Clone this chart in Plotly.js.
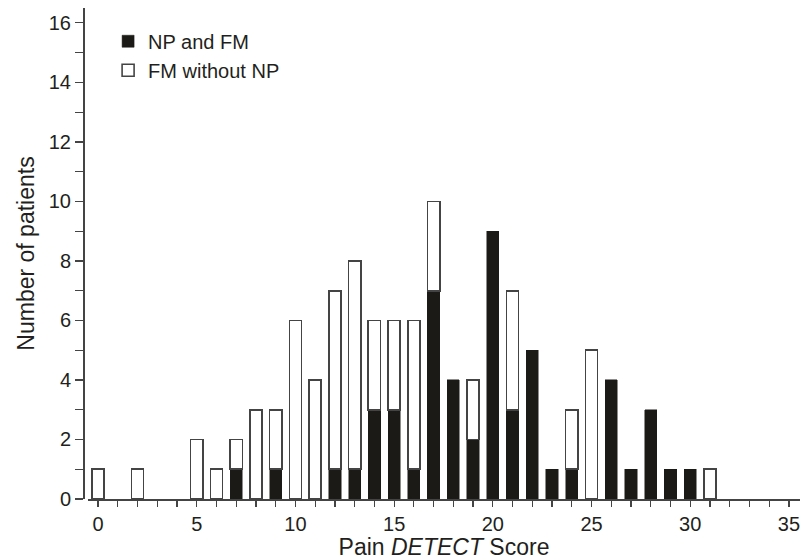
<!DOCTYPE html>
<html>
<head>
<meta charset="utf-8">
<script src="https://cdn.plot.ly/plotly-3.0.1.min.js"></script>
<style>html,body{margin:0;padding:0;background:#fff;}#chart{width:801px;height:560px;}</style>
</head>
<body>
<div id="chart"></div>
<script>
const scores = [0,1,2,3,4,5,6,7,8,9,10,11,12,13,14,15,16,17,18,19,20,21,22,23,24,25,26,27,28,29,30,31];
const npAndFm = [0,0,0,0,0,0,0,1,0,1,0,0,1,1,3,3,1,7,4,2,9,3,5,1,1,0,4,1,3,1,1,0];
const fmWithoutNp = [1,0,1,0,0,2,1,1,3,2,6,4,6,7,3,3,5,3,0,2,0,4,0,0,2,5,0,0,0,0,0,1];
const xTickVals = [0,5,10,15,20,25,30,35];
const yTickVals = [0,2,4,6,8,10,12,14,16];

const font = 'Liberation Sans, Arial, sans-serif';
const lineCol = '#444444';
const txt = '#231f20';
const noZero = a => a.map(v => v === 0 ? null : v);

const traces = [
  {type:'bar', name:'NP and FM', x:scores, y:noZero(npAndFm), width:0.62, legendgroup:'a',
   marker:{color:'#1c1a17', line:{color:'#1c1a17', width:0.5}}, hoverinfo:'skip'},
  {type:'bar', name:'FM without NP', x:scores, y:noZero(fmWithoutNp), width:0.62, legendgroup:'b',
   marker:{color:'#ffffff', line:{color:lineCol, width:1.6}}, hoverinfo:'skip'}
];

const layout = {
  width:801, height:560,
  margin:{l:83, r:1, t:8, b:61},
  paper_bgcolor:'#fff', plot_bgcolor:'#fff',
  barmode:'stack',
  font:{family:font, color:txt, size:20},
  showlegend:true,
  legend:{x:0.035, y:0.972, xanchor:'left', yanchor:'top', bgcolor:'rgba(0,0,0,0)',
          font:{family:font, size:20, color:txt}, tracegroupgap:5, traceorder:'normal'},
  xaxis:{
    domain:[0.007,1], range:[-0.507,35.56], showgrid:false, zeroline:false,
    showline:true, linecolor:lineCol, linewidth:1.5,
    tickmode:'array', tickvals:xTickVals, ticktext:xTickVals.map(String),
    ticks:'outside', ticklen:6, tickwidth:1.2, tickcolor:lineCol,
    minor:{dtick:1, ticks:'outside', ticklen:6, tickwidth:1.2, tickcolor:lineCol, showgrid:false},
    tickfont:{family:font, size:20, color:txt},
    title:{text:'Pain <i>DETECT</i> Score', font:{family:font, size:23, color:txt}, standoff:6}
  },
  yaxis:{
    anchor:'free', position:0, range:[0,16.5], showgrid:false, zeroline:false,
    showline:true, linecolor:lineCol, linewidth:1.5,
    tickmode:'array', tickvals:yTickVals, ticktext:yTickVals.map(String),
    ticks:'outside', ticklen:8, tickwidth:1.2, tickcolor:lineCol,
    minor:{dtick:1, ticks:'outside', ticklen:8, tickwidth:1.2, tickcolor:lineCol, showgrid:false},
    tickfont:{family:font, size:20, color:txt},
    title:{text:'Number of patients', font:{family:font, size:23, color:txt}, standoff:6}
  }
};

Plotly.newPlot('chart', traces, layout, {displayModeBar:false, staticPlot:true});
</script>
</body>
</html>
